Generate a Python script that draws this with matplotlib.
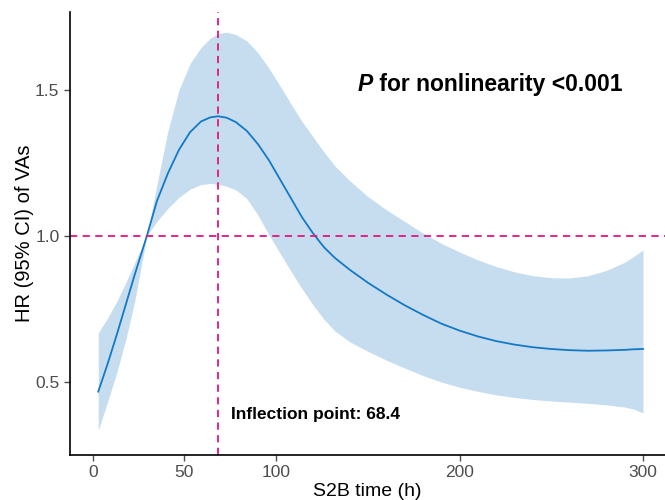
import matplotlib
matplotlib.use('Agg')
from matplotlib import pyplot as plt

plt.rcParams['font.family'] = ['Liberation Sans', 'DejaVu Sans']

# S2B time (h)
time_h = [3, 8, 13, 18, 23, 29.5, 35, 41, 47, 53, 59, 64, 68.4, 73, 78, 84, 90, 96,
          102, 108, 114, 120, 126, 132, 140, 150, 160, 170, 180, 190, 200, 210,
          220, 230, 240, 250, 260, 270, 280, 290, 295, 300]
hr = [0.467, 0.56, 0.66, 0.765, 0.87, 1.0, 1.12, 1.215, 1.295, 1.355, 1.392, 1.406,
      1.41, 1.405, 1.39, 1.36, 1.315, 1.26, 1.195, 1.13, 1.065, 1.01, 0.962, 0.925,
      0.885, 0.84, 0.80, 0.763, 0.73, 0.70, 0.676, 0.656, 0.64, 0.628, 0.619,
      0.613, 0.609, 0.607, 0.608, 0.61, 0.612, 0.613]
hr_upper = [0.668, 0.718, 0.775, 0.84, 0.91, 1.0, 1.175, 1.36, 1.50, 1.59, 1.645,
            1.677, 1.693, 1.698, 1.69, 1.668, 1.628, 1.575, 1.515, 1.453, 1.393,
            1.34, 1.288, 1.24, 1.19, 1.135, 1.09, 1.05, 1.01, 0.975, 0.945, 0.918,
            0.895, 0.877, 0.864, 0.857, 0.856, 0.864, 0.882, 0.91, 0.93, 0.952]
hr_lower = [0.335, 0.43, 0.53, 0.645, 0.78, 1.0, 1.05, 1.095, 1.132, 1.16, 1.176,
            1.18, 1.177, 1.17, 1.158, 1.128, 1.072, 1.005, 0.942, 0.88, 0.82, 0.765,
            0.715, 0.675, 0.638, 0.605, 0.575, 0.548, 0.522, 0.50, 0.482, 0.468,
            0.456, 0.447, 0.44, 0.435, 0.431, 0.427, 0.422, 0.414, 0.407, 0.394]
inflection = 68.4
xticks = [0, 50, 100, 200, 300]
yticks = [0.5, 1.0, 1.5]

fig = plt.figure(figsize=(6.65, 5), dpi=100)
ax = fig.add_axes([0.105, 0.09, 0.895, 0.886])

ax.fill_between(time_h, hr_lower, hr_upper, color='#c6ddf0', linewidth=0)
ax.plot(time_h, hr, color='#1479c4', linewidth=1.3)
ax.axhline(1.0, color='#e5157f', linestyle=(0, (4, 3)), linewidth=1.3)
ax.axvline(inflection, color='#e5157f', linestyle=(0, (4, 3)), linewidth=1.3)

# "P" in bold italic, rest bold
p = ax.text(144.5, 1.52, 'P', fontsize=16.5, fontweight='bold', style='italic',
            va='center', ha='left')
ax.annotate(' for nonlinearity <0.001', xy=(1, 0), xycoords=p, fontsize=16.5,
            fontweight='bold', va='bottom', ha='left')
ax.text(75.3, 0.39, 'Inflection point: ' + str(inflection), fontsize=12.5,
        fontweight='bold', va='center', ha='left')

ax.set_xlim(-12.5, 312)
ax.set_ylim(0.25, 1.767)
ax.set_xticks(xticks)
ax.set_yticks(yticks)
ax.set_yticklabels([f'{v:.1f}' for v in yticks])
ax.tick_params(colors='#4d4d4d', labelsize=12.5, length=4, width=1)
for s in ['top', 'right']:
    ax.spines[s].set_visible(False)
for s in ['left', 'bottom']:
    ax.spines[s].set_linewidth(1.2)
ax.set_xlabel('S2B time (h)', fontsize=14, labelpad=2)
ax.set_ylabel('HR (95% CI) of VAs', fontsize=14.5, labelpad=1)

fig.savefig('out.png', dpi=100)
